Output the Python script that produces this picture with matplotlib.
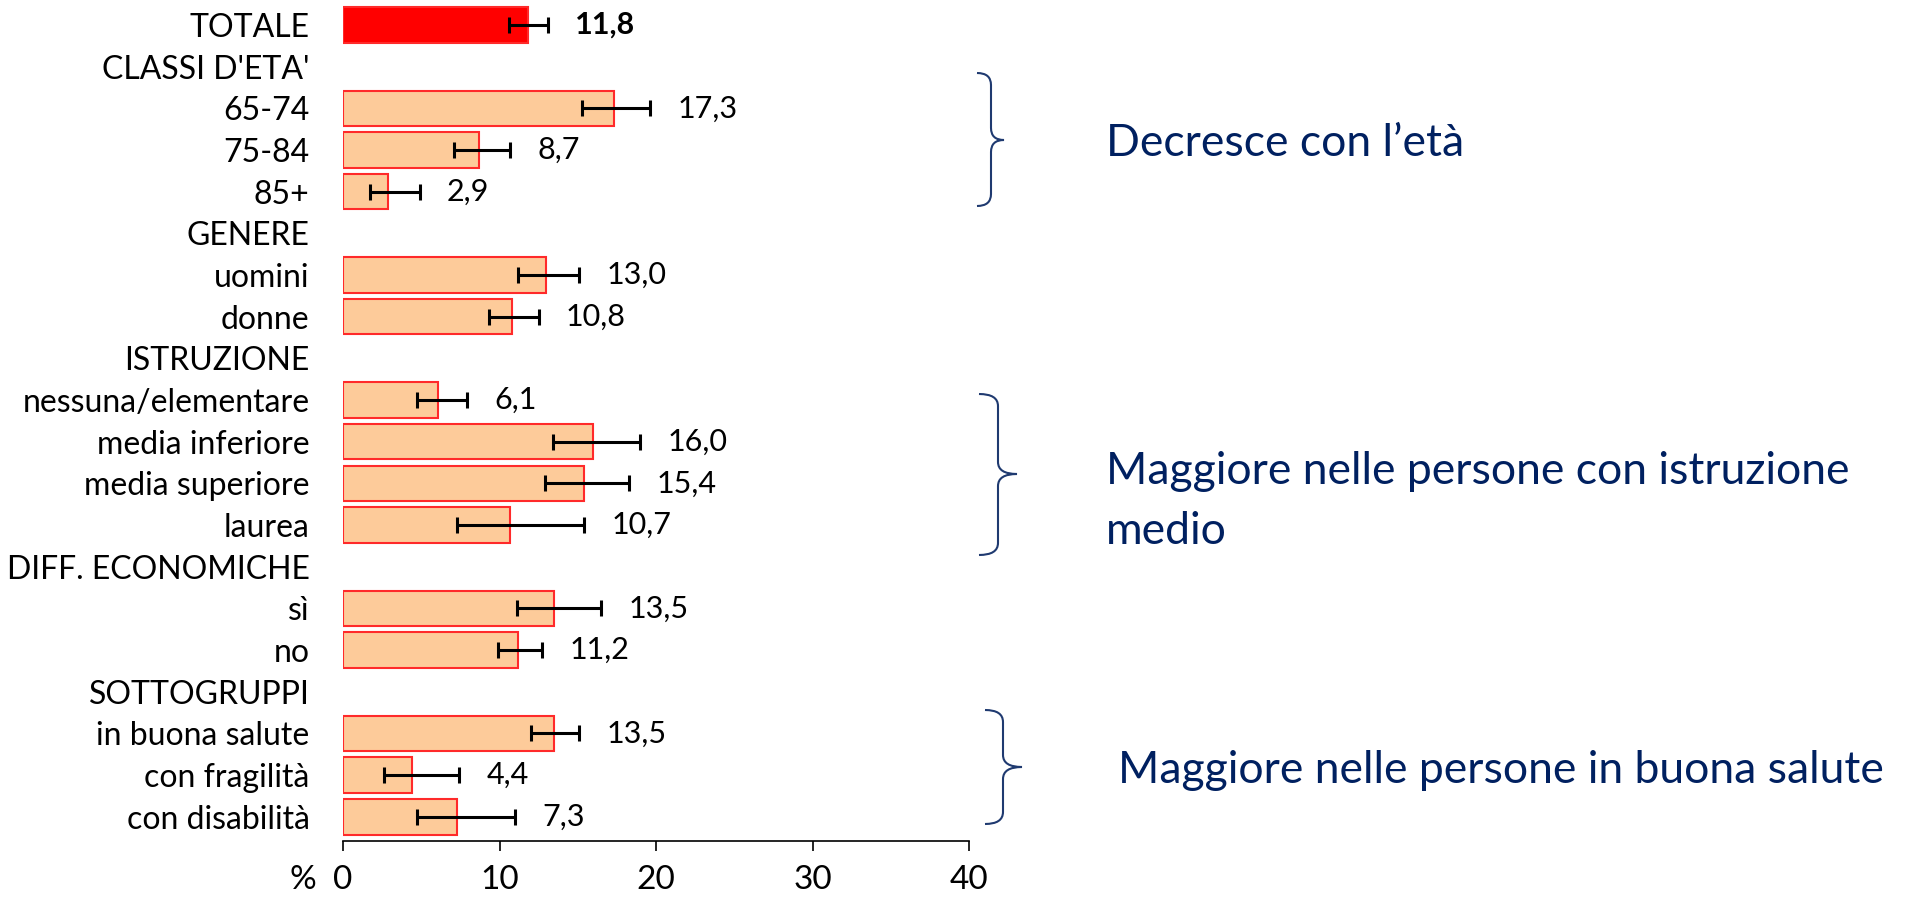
import numpy as np
import matplotlib.pyplot as plt
from matplotlib.path import Path
from matplotlib.patches import PathPatch

plt.rcParams['font.family'] = ['Lato', 'DejaVu Sans']

nan = np.nan

# categories (top to bottom) and values in %
labels = ['TOTALE', "CLASSI D'ETA'", '65-74', '75-84', '85+', 'GENERE', 'uomini', 'donne',
          'ISTRUZIONE', 'nessuna/elementare', 'media inferiore', 'media superiore', 'laurea',
          'DIFF. ECONOMICHE', 'sì', 'no', 'SOTTOGRUPPI', 'in buona salute', 'con fragilità',
          'con disabilità']
values = [11.8, nan, 17.3, 8.7, 2.9, nan, 13.0, 10.8, nan, 6.1, 16.0, 15.4, 10.7,
          nan, 13.5, 11.2, nan, 13.5, 4.4, 7.3]
ci_low = [10.6, nan, 15.3, 7.1, 1.7, nan, 11.2, 9.3, nan, 4.7, 13.4, 12.9, 7.3,
          nan, 11.1, 9.9, nan, 12.0, 2.6, 4.7]
ci_high = [13.1, nan, 19.6, 10.7, 4.9, nan, 15.1, 12.5, nan, 7.9, 19.0, 18.3, 15.4,
           nan, 16.5, 12.7, nan, 15.1, 7.4, 11.0]
x_ticks = [0, 10, 20, 30, 40]

W, H = 1911, 897
fig = plt.figure(figsize=(W / 100, H / 100), dpi=100)
ax = fig.add_axes([343 / W, 1 - 841 / H, (969 - 343) / W, 841 / H])

vals = np.array(values, dtype=float)
lo = np.array(ci_low, dtype=float)
hi = np.array(ci_high, dtype=float)
y = np.arange(len(labels))
ok = ~np.isnan(vals)

colors = ['#FF0000' if i == 0 else '#FDCB9A' for i in range(len(labels))]
ax.barh(y[ok], vals[ok], height=0.85, color=np.array(colors)[ok],
        edgecolor='#FF2A2A', linewidth=1.5, zorder=2)
ax.errorbar(vals[ok], y[ok], xerr=[vals[ok] - lo[ok], hi[ok] - vals[ok]], fmt='none',
            ecolor='black', elinewidth=2.2, capsize=6, capthick=2.2, zorder=3)

for i in y[ok]:
    ax.text(hi[i] + 1.75, i, f'{vals[i]:.1f}'.replace('.', ','), va='center', ha='left',
            fontsize=22, fontweight='bold' if i == 0 else 'normal', color='black')

ax.set_ylim(19.58, -0.6)
ax.set_xlim(0, 40)
ax.set_yticks(y)
ax.set_yticklabels(labels, fontsize=23)
ax.set_xticks(x_ticks)
ax.set_xticklabels([str(t) for t in x_ticks], fontsize=24)
ax.tick_params(axis='y', length=0, pad=24)
ax.tick_params(axis='x', length=7, width=1.2, pad=10, direction='out')
for s in ['left', 'top', 'right']:
    ax.spines[s].set_visible(False)
ax.spines['bottom'].set_linewidth(1.2)
fig.text(316 / W, 1 - 880 / H, '%', ha='right', va='center', fontsize=24)


def px(x, yv):
    return (x / W, 1 - yv / H)


def brace(x_tip, x_spine, x_point, y_top, y_mid, y_bot, r=12):
    pts = [px(x_tip, y_top), px(x_spine, y_top), px(x_spine, y_top + r),
           px(x_spine, y_mid - r), px(x_spine, y_mid), px(x_point, y_mid),
           px(x_spine, y_mid), px(x_spine, y_mid + r),
           px(x_spine, y_bot - r), px(x_spine, y_bot), px(x_tip, y_bot)]
    codes = [Path.MOVETO, Path.CURVE3, Path.CURVE3, Path.LINETO, Path.CURVE3, Path.CURVE3,
             Path.CURVE3, Path.CURVE3, Path.LINETO, Path.CURVE3, Path.CURVE3]
    fig.patches.append(PathPatch(Path(pts, codes), transform=fig.transFigure,
                                 fill=False, edgecolor='#1F3A70', linewidth=1.5))


brace(977, 991, 1004, 73, 140, 206)
brace(979, 998, 1017, 394, 474, 555)
brace(985, 1003, 1022, 710, 767, 824)

navy = '#002060'
fig.text(1106 / W, 1 - 144 / H, 'Decresce con l\u2019età', color=navy, fontsize=32, va='center')
fig.text(1106 / W, 1 - 471 / H, 'Maggiore nelle persone con istruzione', color=navy,
         fontsize=32, va='center')
fig.text(1106 / W, 1 - 531 / H, 'medio', color=navy, fontsize=32, va='center')
fig.text(1118 / W, 1 - 770 / H, 'Maggiore nelle persone in buona salute', color=navy,
         fontsize=32, va='center')

fig.savefig('out.png', dpi=100)
